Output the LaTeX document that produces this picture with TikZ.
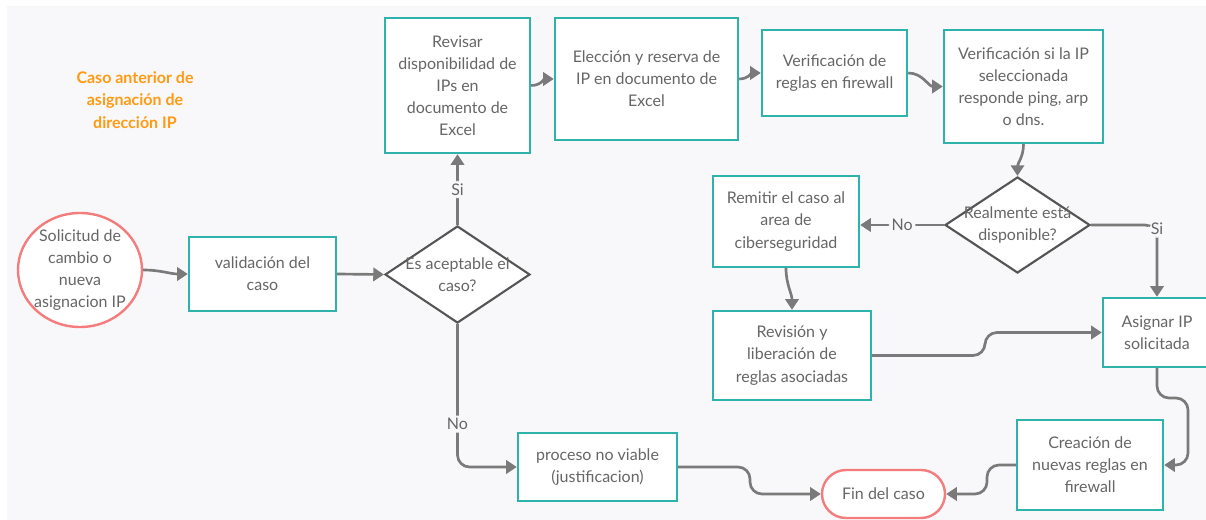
\documentclass[tikz,border=0pt]{standalone}
\usepackage{fontspec}
\setmainfont{Lato}
\usetikzlibrary{arrows.meta,shapes.geometric}
\definecolor{boxline}{HTML}{2DB3AC}
\definecolor{endline}{HTML}{F47C7C}
\definecolor{ink}{HTML}{666666}
\definecolor{wire}{HTML}{7A7A7A}
\definecolor{rim}{HTML}{555555}
\definecolor{paper}{HTML}{F8F8FA}
\definecolor{accent}{HTML}{FF9A12}
\begin{document}
\begin{tikzpicture}[x=0.75pt,y=-0.75pt,
  font=\fontsize{12}{16.6}\selectfont, text=ink,
  stepbox/.style 2 args={draw=boxline, line width=1.8pt, fill=white, align=center,
    minimum width=#1*0.75pt, minimum height=#2*0.75pt, inner sep=0pt},
  choice/.style 2 args={diamond, draw=rim, line width=1.6pt, fill=white,
    minimum width=#1*0.75pt, minimum height=#2*0.75pt, inner sep=0pt},
  terminal/.style 2 args={draw=endline, line width=1.8pt, fill=white,
    minimum width=#1*0.75pt, minimum height=#2*0.75pt, inner sep=0pt,
    rounded corners=#2*0.375pt},
  flow/.style={draw=wire, line width=2pt, -{Triangle[length=8pt,width=10pt]}, rounded corners=9pt},
  tag/.style={fill=paper, text=ink, inner sep=2pt}
]
\useasboundingbox (0,0) rectangle (1206,520);
\fill[white] (0,0) rectangle (1206,520);
\fill[paper] (7,6) rectangle (1206,520);

% heading
\node[text=accent, align=center, font=\fontsize{12}{16.6}\selectfont\bfseries] (heading) at (135,100)
  {Caso anterior de\\asignación de\\dirección IP};

% process steps
\node[ellipse, draw=endline, line width=1.8pt, fill=white, minimum width=124*0.75pt,
  minimum height=114*0.75pt, inner sep=0pt,
  label={[align=center,text=ink]center:Solicitud de\\cambio o\\nueva\\asignacion IP}] (req) at (80,270) {};
\node[stepbox={147}{74}] (val) at (262.5,274) {validación del\\caso};
\node[choice={145}{97}, label={[align=center,text=ink]center:Es aceptable el\\caso?}] (ok) at (457.5,274.5) {};
\node[stepbox={145}{135}] (rev) at (457.5,85.5) {Revisar\\disponibilidad de\\IPs en\\documento de\\Excel};
\node[stepbox={183}{122}] (pick) at (646.5,79) {Elección y reserva de\\IP en documento de\\Excel};
\node[stepbox={145}{86}] (fw) at (834.5,73) {Verificación de\\reglas en firewall};
\node[stepbox={159}{113}] (ping) at (1023.5,86.5) {Verificación si la IP\\seleccionada\\responde ping, arp\\o dns.};
\node[choice={145}{96}, label={[align=center,text=ink]center:Realmente está\\disponible?}] (free) at (1017.5,225) {};
\node[stepbox={146}{91}] (sec) at (786,221.5) {Remitir el caso al\\area de\\ciberseguridad};
\node[stepbox={158}{89}] (lib) at (792,355.5) {Revisión y\\liberación de\\reglas asociadas};
\node[stepbox={108}{69}] (asg) at (1157,332.5) {Asignar IP\\solicitada};
\node[stepbox={146}{90}] (new) at (1090,465) {Creación de\\nuevas reglas en\\firewall};
\node[stepbox={159}{68}] (nv) at (597.5,467) {proceso no viable\\(justificacion)};
\node[terminal={123}{48}] (fin) at (883.5,494) {Fin del caso};

% connectors
\draw[flow] (req.east) to[out=0,in=180] (val.west);
\draw[flow] (val.east) -- (ok.west);
\draw[flow] (ok.north) -- node[tag] {Si} (rev.south);
\draw[flow] (ok.south) -- node[tag, pos=0.7] {No} (ok.south |- nv.west) -- (nv.west);
\draw[flow] (rev.east) to[out=0,in=180] (pick.west);
\draw[flow] (pick.east) to[out=0,in=180] (fw.west);
\draw[flow] (fw.east) to[out=0,in=180] (ping.west);
\draw[flow] (ping.south) to[out=-90,in=90] (free.north);
\draw[flow] (free.west) -- node[tag, pos=0.5] {No} (free.west -| sec.east);
\draw[flow] (free.east) -- (asg.north |- free.east) node[tag, yshift=-3pt] {Si} -- (asg.north);
\draw[flow] (sec.south) to[out=-90,in=90] (lib.north);
\draw[flow] (lib.east) -- (985,355.5) -- (985,332.5) -- (asg.west);
\draw[flow] (asg.south) -- (1157,398) -- (1188,398) -- (1188,465) -- (new.east);
\draw[flow] (new.west) -- (987,465) -- (987,494) -- (fin.east);
\draw[flow] (nv.east) -- (750,467) -- (750,494) -- (fin.west);
\end{tikzpicture}
\end{document}
